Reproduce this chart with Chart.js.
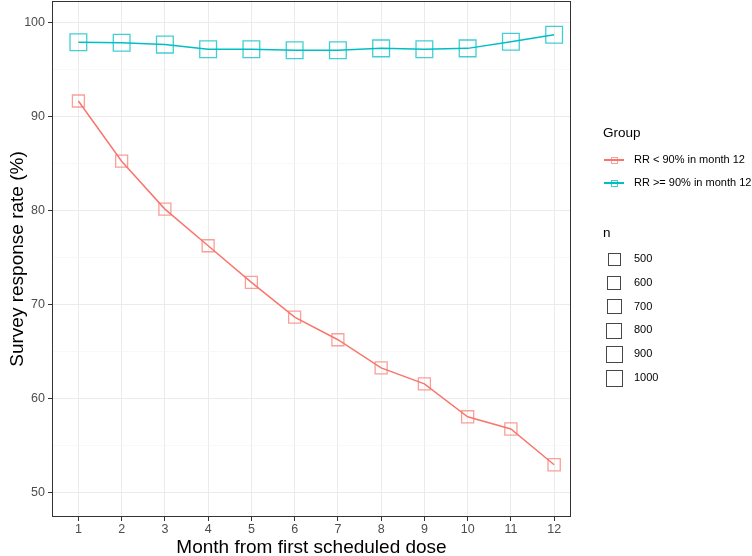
<!DOCTYPE html>
<html>
<head>
<meta charset="utf-8">
<script src="https://cdn.jsdelivr.net/npm/chart.js@4"></script>
<style>
  html, body { margin: 0; padding: 0; background: #fff; }
  #wrap { position: relative; width: 752px; height: 556px; font-family: "Liberation Sans", Arial, sans-serif; }
  #wrap canvas { position: absolute; left: 0; top: 0; }
  .lg { position: absolute; color: #000; white-space: nowrap; }
  .lg-title { font-size: 13.5px; }
  .lg-item { font-size: 11px; line-height: 11px; }
  .lg-key { position: absolute; }
</style>
</head>
<body>
<div id="wrap">
  <canvas id="chart" width="752" height="556"></canvas>
  <div id="legend"></div>
</div>
<script>
// 월 (x축)
const months = [1, 2, 3, 4, 5, 6, 7, 8, 9, 10, 11, 12];
const monthLabels = ['1', '2', '3', '4', '5', '6', '7', '8', '9', '10', '11', '12'];

// 응답률 (%)
const lowRate  = [91.7, 85.3, 80.2, 76.3, 72.4, 68.7, 66.3, 63.3, 61.6, 58.1, 56.8, 53.0];
const highRate = [97.95, 97.9, 97.7, 97.2, 97.2, 97.1, 97.1, 97.3, 97.2, 97.3, 98.0, 98.75];

// 표본 수 n (점 크기)
const lowN  = [470, 470, 470, 470, 470, 470, 470, 475, 475, 480, 485, 495];
const highN = [1000, 1000, 1010, 1010, 1000, 1000, 1000, 1010, 1005, 1005, 1000, 1000];

const yTicks = [50, 55, 60, 65, 70, 75, 80, 85, 90, 95, 100];
const sizeLegend = [500, 600, 700, 800, 900, 1000];

const groupNames = ['RR < 90% in month 12', 'RR >= 90% in month 12'];
const RED = '#F8766D';
const CYAN = '#00BFC4';

// n -> 사각형 한 변 길이(px)
function sideFor(n) {
    return 1.68 + 0.475 * Math.sqrt(n);
}

function toPoints(ys) {
    return months.map((m, i) => ({ x: m, y: ys[i] }));
}

const panelBorder = {
    id: 'panelBorder',
    afterDraw(chart) {
        const a = chart.chartArea;
        const ctx = chart.ctx;
        ctx.save();
        ctx.strokeStyle = '#333333';
        ctx.lineWidth = 1;
        ctx.strokeRect(a.left + 0.5, a.top + 0.5, a.right - a.left - 1, a.bottom - a.top - 1);
        ctx.restore();
    }
};

const ctx = document.getElementById('chart').getContext('2d');
new Chart(ctx, {
    type: 'line',
    data: {
        datasets: [
            {
                label: groupNames[0],
                data: toPoints(lowRate),
                borderColor: RED,
                borderWidth: 1.5,
                pointStyle: 'rect',
                pointRadius: c => sideFor(lowN[c.dataIndex]) / Math.SQRT2,
                pointBorderColor: 'rgba(248,118,109,0.7)',
                pointBackgroundColor: 'rgba(0,0,0,0)',
                pointBorderWidth: 1.3,
                tension: 0,
                fill: false
            },
            {
                label: groupNames[1],
                data: toPoints(highRate),
                borderColor: CYAN,
                borderWidth: 1.5,
                pointStyle: 'rect',
                pointRadius: c => sideFor(highN[c.dataIndex]) / Math.SQRT2,
                pointBorderColor: 'rgba(0,191,196,0.75)',
                pointBackgroundColor: 'rgba(0,0,0,0)',
                pointBorderWidth: 1.3,
                tension: 0,
                fill: false
            }
        ]
    },
    options: {
        responsive: false,
        animation: false,
        events: [],
        layout: { autoPadding: false, padding: { top: 1, right: 181, bottom: 0, left: 0 } },
        plugins: {
            legend: { display: false },
            tooltip: { enabled: false }
        },
        scales: {
            x: {
                type: 'linear',
                min: 0.39,
                max: 12.39,
                afterFit: function(axis) {
                    axis.height = 39;
                    axis.paddingLeft = 0;
                    axis.paddingRight = 0;
                },
                afterBuildTicks: function(axis) {
                    axis.ticks = months.map(v => ({ value: v }));
                },
                border: { display: false },
                grid: {
                    color: '#EBEBEB',
                    lineWidth: 1,
                    tickLength: 4,
                    tickColor: '#333333'
                },
                ticks: {
                    padding: 1,
                    color: '#4D4D4D',
                    font: { family: 'Liberation Sans', size: 12.5 },
                    maxRotation: 0,
                    autoSkip: false,
                    callback: function(value) {
                        const i = months.indexOf(value);
                        return i >= 0 ? monthLabels[i] : '';
                    }
                },
                title: {
                    display: true,
                    text: 'Month from first scheduled dose',
                    color: '#000',
                    font: { family: 'Liberation Sans', size: 19, lineHeight: 1 },
                    padding: { top: 0, bottom: -1 }
                }
            },
            y: {
                type: 'linear',
                min: 47.44,
                max: 102.34,
                afterFit: function(axis) {
                    axis.width = 52;
                    axis.paddingTop = 0;
                    axis.paddingBottom = 0;
                },
                afterBuildTicks: function(axis) {
                    axis.ticks = yTicks.map(v => ({ value: v }));
                },
                border: { display: false },
                grid: {
                    color: c => (c.tick && c.tick.value % 10 === 0) ? '#EBEBEB' : '#F4F4F4',
                    lineWidth: c => (c.tick && c.tick.value % 10 === 0) ? 1 : 0.6,
                    tickLength: 4,
                    tickColor: c => (c.tick && c.tick.value % 10 === 0) ? '#333333' : 'rgba(0,0,0,0)'
                },
                ticks: {
                    padding: 3,
                    color: '#4D4D4D',
                    font: { family: 'Liberation Sans', size: 12.5 },
                    autoSkip: false,
                    callback: function(value) {
                        return value % 10 === 0 ? String(value) : '';
                    }
                },
                title: {
                    display: true,
                    text: 'Survey response rate (%)',
                    color: '#000',
                    font: { family: 'Liberation Sans', size: 19, lineHeight: 1 },
                    padding: { top: 8, bottom: 0 }
                }
            }
        }
    },
    plugins: [panelBorder]
});

// 범례 (오른쪽)
function buildLegend() {
    const box = document.getElementById('legend');
    let html = '';
    html += `<div class="lg lg-title" style="left:603px; top:125px;">Group</div>`;
    const colors = [RED, CYAN];
    const alphas = ['rgba(248,118,109,0.7)', 'rgba(0,191,196,0.75)'];
    const ys = [160, 183];
    groupNames.forEach((name, i) => {
        const y = ys[i];
        html += `<div class="lg-key" style="left:604px; top:${y - 0.75}px; width:20px; height:1.5px; background:${colors[i]};"></div>`;
        html += `<div class="lg-key" style="left:611px; top:${y - 3.5}px; width:5px; height:5px; border:1px solid ${alphas[i]};"></div>`;
        html += `<div class="lg lg-item" style="left:634px; top:${y - 6}px;">${name}</div>`;
    });
    html += `<div class="lg lg-title" style="left:603px; top:225px;">n</div>`;
    sizeLegend.forEach((n, i) => {
        const y = 259 + i * 23.8;
        const s = sideFor(n);
        html += `<div class="lg-key" style="left:${614 - s / 2}px; top:${y - s / 2}px; width:${s - 1.3}px; height:${s - 1.3}px; border:1.3px solid rgba(51,51,51,0.9);"></div>`;
        html += `<div class="lg lg-item" style="left:634px; top:${y - 6}px;">${n}</div>`;
    });
    box.innerHTML = html;
}
buildLegend();
</script>
</body>
</html>
